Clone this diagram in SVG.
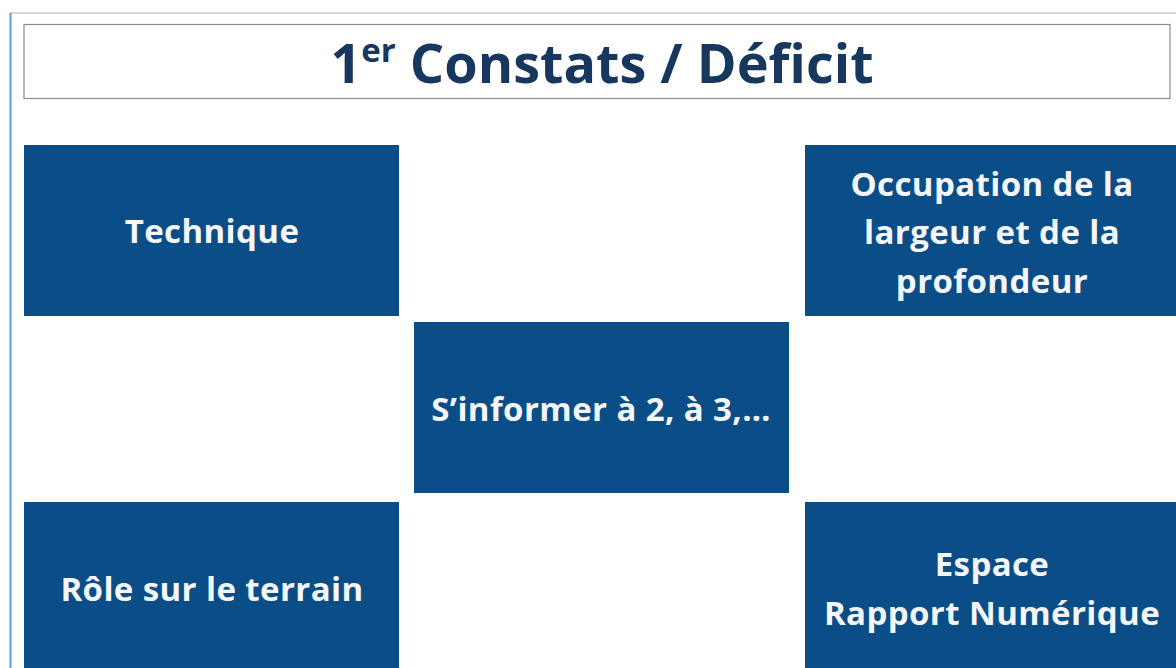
<svg xmlns="http://www.w3.org/2000/svg" width="1176" height="668" viewBox="0 0 1176 668">
<style>
.box{fill:#0b4d87}
.lbl{font-family:"Open Sans","Liberation Sans",sans-serif;font-weight:700;font-size:33px;letter-spacing:0.4px;fill:#f4f6fa;text-anchor:middle}
.title{font-family:"Open Sans","Liberation Sans",sans-serif;font-weight:700;font-size:54px;fill:#17375e;text-anchor:middle}
</style>
<rect width="1176" height="668" fill="#ffffff"/>
<line x1="10" y1="13" x2="1176" y2="13" stroke="#c8c8c8" stroke-width="1.5"/>
<line x1="10.5" y1="13" x2="10.5" y2="668" stroke="#5b9bd5" stroke-width="2"/>
<g id="title">
<rect x="24" y="24.5" width="1146" height="74" fill="#ffffff" stroke="#8c8c8c" stroke-width="1.2"/>
<text class="title" x="602" y="83">1<tspan font-size="33" dy="-21">er</tspan><tspan dy="21"> Constats / Déficit</tspan></text>
</g>
<g id="technique">
<rect class="box" x="24" y="145" width="375" height="171"/>
<text class="lbl" x="212" y="243">Technique</text>
</g>
<g id="occupation">
<rect class="box" x="805" y="145" width="375" height="171"/>
<text class="lbl" x="992" y="196">Occupation de la</text>
<text class="lbl" x="992" y="244">largeur et de la</text>
<text class="lbl" x="992" y="293">profondeur</text>
</g>
<g id="informer">
<rect class="box" x="414" y="322" width="375" height="171"/>
<text class="lbl" x="601" y="421">S’informer à 2, à 3,…</text>
</g>
<g id="role">
<rect class="box" x="24" y="502" width="375" height="171"/>
<text class="lbl" x="212" y="601">Rôle sur le terrain</text>
</g>
<g id="espace">
<rect class="box" x="805" y="502" width="375" height="171"/>
<text class="lbl" x="992" y="576">Espace</text>
<text class="lbl" x="992" y="625">Rapport Numérique</text>
</g>
<g id="connectors"></g>
</svg>
